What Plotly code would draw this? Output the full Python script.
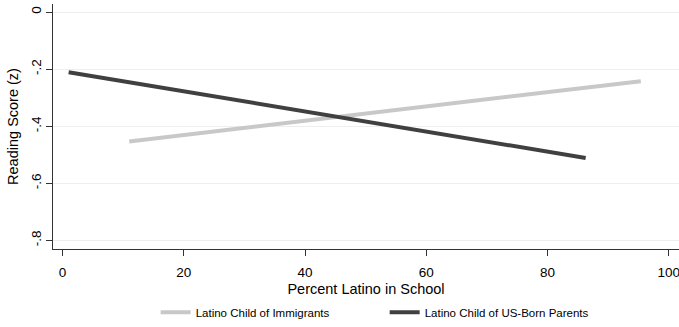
import plotly.graph_objects as go

# Data
imm_x = [11.0, 95.4]
imm_y = [-0.453, -0.242]
usb_x = [1.0, 86.3]
usb_y = [-0.211, -0.511]

x_ticks = [0, 20, 40, 60, 80, 100]
y_ticks = [0, -0.2, -0.4, -0.6, -0.8]
y_tick_text = ["0", "-.2", "-.4", "-.6", "-.8"]

fig = go.Figure()
fig.add_trace(go.Scatter(x=imm_x, y=imm_y, mode="lines", name="Latino Child of Immigrants",
                         line=dict(color="#c8c8c8", width=4)))
fig.add_trace(go.Scatter(x=usb_x, y=usb_y, mode="lines", name="Latino Child of US-Born Parents",
                         line=dict(color="#404040", width=4)))

font = "Liberation Sans, Arial, sans-serif"
fig.update_layout(
    width=679, height=327,
    margin=dict(l=53, r=0, t=4, b=71),
    paper_bgcolor="white", plot_bgcolor="white",
    font=dict(family=font, size=13, color="black"),
    showlegend=True,
    legend=dict(orientation="h", x=0.164, xanchor="left", y=-0.258, yanchor="middle",
                font=dict(size=11.5), traceorder="normal", entrywidth=184, entrywidthmode="pixels"),
    xaxis=dict(range=[-1.58, 101.7], tickvals=x_ticks, showgrid=False, zeroline=False,
               automargin=False, ticklabeloverflow="allow",
               showline=True, linecolor="#333333", linewidth=1, ticks="outside", ticklen=6,
               tickcolor="#333333", tickfont=dict(size=13.5), ticklabelstandoff=5,
               title=dict(text="Percent Latino in School", font=dict(size=14.5), standoff=4)),
    yaxis=dict(range=[-0.830, 0.0283], tickvals=y_ticks, ticktext=y_tick_text, tickangle=-90,
               automargin=False,
               showgrid=True, gridcolor="#eeeeee", gridwidth=1, zeroline=False,
               showline=True, linecolor="#333333", linewidth=1, ticks="outside", ticklen=6,
               tickcolor="#333333", tickfont=dict(size=13.5), ticklabelstandoff=0,
               title=dict(text="Reading Score (z)", font=dict(size=14.5), standoff=6)),
)

fig.write_html("out.html", config={"displayModeBar": False},
               post_script="document.body.style.margin='0';document.body.style.overflow='hidden';")
